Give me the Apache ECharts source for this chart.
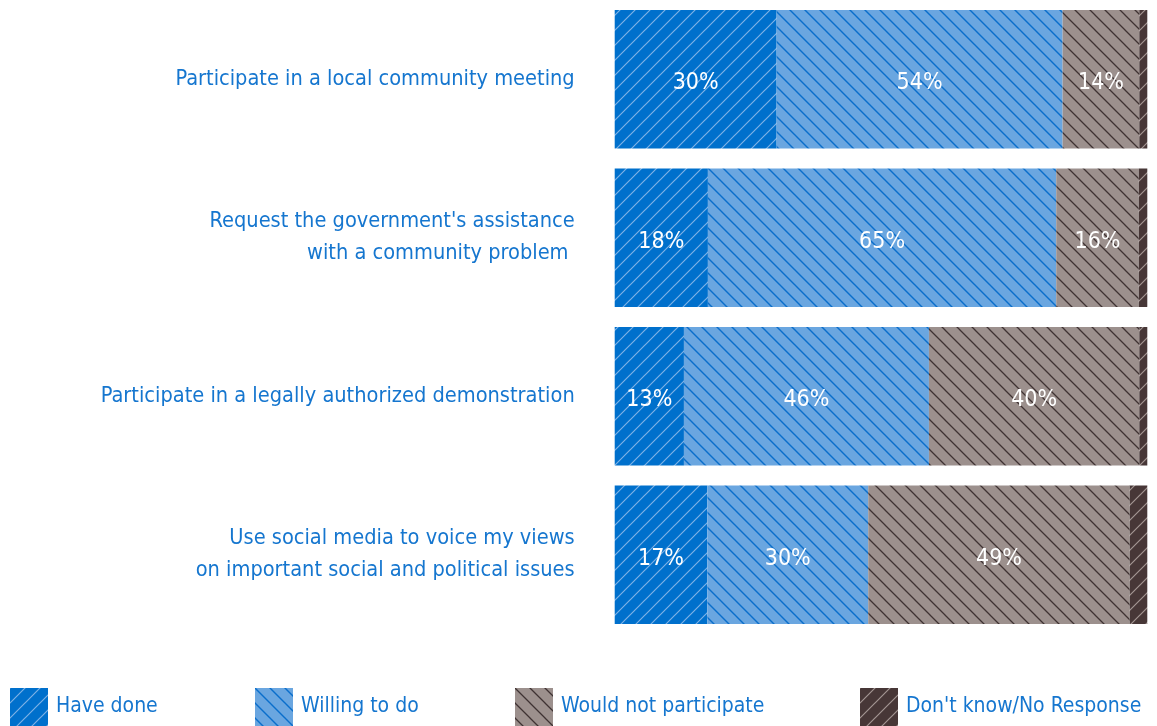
<!DOCTYPE html>
<html><head><meta charset="utf-8">
<script src="https://cdn.jsdelivr.net/npm/echarts@6/dist/echarts.min.js"></script>
<style>html,body{margin:0;padding:0;background:#fff}#c{width:1157px;height:726px}</style>
</head><body><div id="c"></div>
<script>
const categories = [
  "Participate in a local community meeting",
  "Request the government's assistance\nwith a community problem ",
  "Participate in a legally authorized demonstration",
  "Use social media to voice my views\non important social and political issues"
];
const seriesNames = ["Have done", "Willing to do", "Would not participate", "Don't know/No Response"];
const haveDone = [30.4, 17.5, 13.0, 17.4];
const willing = [53.7, 65.4, 46.0, 30.2];
const wouldNot = [14.4, 15.5, 39.5, 49.1];
const dontKnow = [1.5, 1.6, 1.5, 3.3];

const FONT = '"DejaVu Sans Condensed","Liberation Sans Narrow","Roboto",sans-serif';

function pattern(bg, line, dir, lw) {
  const s = 15;
  const c = document.createElement('canvas');
  c.width = s; c.height = s;
  const g = c.getContext('2d');
  g.fillStyle = bg; g.fillRect(0, 0, s, s);
  g.strokeStyle = line; g.lineWidth = lw;
  g.beginPath();
  if (dir === '/') {
    for (const o of [-s, 0, s]) { g.moveTo(o - 1, s + 1); g.lineTo(o + s + 1, -1); }
  } else {
    for (const o of [-s, 0, s]) { g.moveTo(o - 1, -1); g.lineTo(o + s + 1, s + 1); }
  }
  g.stroke();
  return { image: c, repeat: 'repeat' };
}
const fills = [
  pattern('#0070cc', '#7eb2e6', '/', 1.2),
  pattern('#6aa6e0', '#0a6ecb', '\\', 1.4),
  pattern('#9c908d', '#3e3232', '\\', 1.3),
  pattern('#473737', '#a39693', '/', 1.2)
];
const dataSets = [haveDone, willing, wouldNot, dontKnow];
const legendLeft = [5, 250, 510, 855];

const chart = echarts.init(document.getElementById('c'));
chart.setOption({
  animation: false,
  grid: { left: 614.7, right: 9.7, top: -1, height: 635, containLabel: false },
  xAxis: { type: 'value', min: 0, max: 100, show: false },
  yAxis: {
    type: 'category', data: categories, inverse: true,
    axisLine: { show: false }, axisTick: { show: false },
    axisLabel: { margin: 40, color: '#1576cf', fontSize: 21.6, fontFamily: FONT, lineHeight: 32, align: 'right' }
  },
  legend: seriesNames.map((n, i) => ({
    left: legendLeft[i], top: 683, itemWidth: 38, itemHeight: 38,
    icon: 'rect', data: [n],
    textStyle: { color: '#1576cf', fontSize: 21, fontFamily: FONT, padding: [0, 0, 0, 3] }
  })),
  series: seriesNames.map((n, i) => ({
    name: n, type: 'bar', stack: 'all', barWidth: 138.5,
    data: dataSets[i],
    itemStyle: { color: fills[i] },
    label: {
      show: i < 3, position: 'inside', color: '#fff', fontSize: 23, fontFamily: FONT, offset: [0, 4],
      formatter: p => Math.round(p.value) + '%'
    }
  }))
});
</script></body></html>
